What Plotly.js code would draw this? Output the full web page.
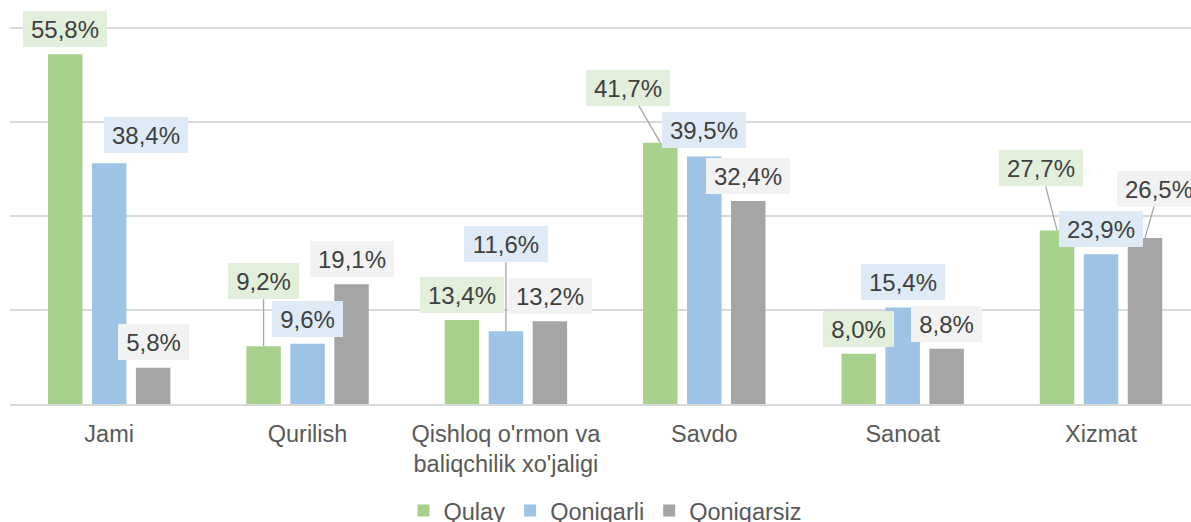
<!DOCTYPE html>
<html>
<head>
<meta charset="utf-8">
<script src="https://cdn.plot.ly/plotly-3.0.1.min.js"></script>
<style>
html,body{margin:0;padding:0;overflow:hidden;background:#fff;}
#chart{width:1201px;height:540px;}
</style>
</head>
<body>
<div id="chart"></div>
<script>
// ---- data ----
const categories = ["Jami", "Qurilish", "Qishloq o'rmon va<br>baliqchilik xo'jaligi", "Savdo", "Sanoat", "Xizmat"];
const seriesNames = ["Qulay", "Qoniqarli", "Qoniqarsiz"];
const qulay      = [55.8,  9.2, 13.4, 41.7,  8.0, 27.7];
const qoniqarli  = [38.4,  9.6, 11.6, 39.5, 15.4, 23.9];
const qoniqarsiz = [ 5.8, 19.1, 13.2, 32.4,  8.8, 26.5];

// ---- styles ----
const barColors   = ["#a9d18e", "#9dc3e6", "#a5a5a5"];
const labelFills  = ["#e2efda", "#deebf7", "#f2f2f2"];
const FONT = "'Liberation Sans', Arial, sans-serif";
const FS = 23.5;
const LABEL_FS = 24;
const BARGAP = 0.335, BARGROUPGAP = 0.216;

// label placement relative to bar top, in pixels: [dx, dy, leaderLine]
const labelOffsets = [
  [[0,-25,false],[0,-65,true],[0,-25,false],[-32,-55,true],[0,-25,false],[-16,-62,true]],
  [[37,-28,false],[0,-25,false],[0,-87,true],[0,-26,false],[0,-25,false],[0,-25,false]],
  [[0,-26,false],[0,-25,false],[0,-25,false],[0,-25,false],[0,-25,false],[14,-49,true]]
];

const allSeries = [qulay, qoniqarli, qoniqarsiz];

const traces = allSeries.map((vals, j) => ({
  type: "bar",
  name: seriesNames[j],
  x: categories,
  y: vals,
  marker: {color: barColors[j], line: {width: 0}},
  hoverinfo: "skip"
}));

const fmt = v => v.toFixed(1).replace(".", ",") + "%";
const slot = (1 - BARGAP) / 3;

const annotations = [];
allSeries.forEach((vals, j) => {
  vals.forEach((v, i) => {
    const [dx, dy, line] = labelOffsets[j][i];
    const txt = fmt(v);
    const a = {
      xref: "x", yref: "y",
      x: i + (j - 1) * slot,
      y: v,
      text: txt,
      font: {family: FONT, size: LABEL_FS, color: "#404040"},
      bgcolor: labelFills[j],
      borderpad: 0, borderwidth: 0,
      width: txt.length === 5 ? 84 : 71,
      height: 36,
      align: "center", valign: "middle"
    };
    if (line) {
      Object.assign(a, {
        showarrow: true, arrowhead: 0, arrowwidth: 1.3, arrowcolor: "#a6a6a6",
        axref: "pixel", ayref: "pixel", ax: dx, ay: dy, standoff: 0
      });
    } else {
      Object.assign(a, {
        showarrow: false, xanchor: "center", yanchor: "middle",
        xshift: dx, yshift: -dy
      });
    }
    annotations.push(a);
  });
});

const layout = {
  width: 1201, height: 540,
  margin: {l: 10, r: 0, t: 22, b: 136},
  paper_bgcolor: "#fff", plot_bgcolor: "#fff",
  barmode: "group", bargap: BARGAP, bargroupgap: BARGROUPGAP,
  font: {family: FONT, size: FS, color: "#595959"},
  xaxis: {
    type: "category",
    showgrid: false, zeroline: false,
    showline: true, linecolor: "#d9d9d9", linewidth: 1.5,
    ticks: "", ticklabelstandoff: 8,
    tickfont: {family: FONT, size: FS, color: "#595959"},
    automargin: false
  },
  yaxis: {
    range: [0, 60.957], dtick: 15, tick0: 0,
    showticklabels: false, ticks: "",
    showgrid: true, gridcolor: "#d9d9d9", gridwidth: 1.5,
    zeroline: false, showline: false, automargin: false
  },
  showlegend: true,
  legend: {
    orientation: "h", x: 0.5, xanchor: "center",
    yref: "container", y: 0.054, yanchor: "middle",
    font: {family: FONT, size: FS, color: "#595959"},
    bgcolor: "rgba(0,0,0,0)", traceorder: "normal"
  },
  annotations: annotations
};

Plotly.newPlot("chart", traces, layout, {displayModeBar: false, staticPlot: true});
</script>
</body>
</html>
